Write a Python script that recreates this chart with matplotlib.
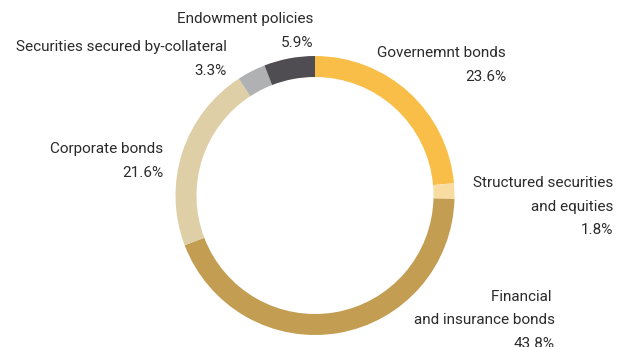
import matplotlib
matplotlib.use("Agg")
import matplotlib.pyplot as plt

plt.rcParams["font.family"] = ["Roboto", "DejaVu Sans"]

categories = ["Governemnt bonds", "Structured securities\nand equities",
              "Financial \nand insurance bonds", "Corporate bonds",
              "Securities secured by-collateral", "Endowment policies"]
shares = [23.6, 1.8, 43.8, 21.6, 3.3, 5.9]
colors = ["#F8BE48", "#F9DCA2", "#C29D52", "#DFCFA6", "#B0B1B3", "#4F4D52"]

W, H = 617, 347
fig = plt.figure(figsize=(W / 100, H / 100), dpi=100)
ax = fig.add_axes([0, 0, 1, 1])

cx, cy, r = 315, H - 195.5, 139.5
ax.pie(shares, colors=colors, startangle=90, counterclock=False,
       center=(cx, cy), radius=r, frame=True,
       wedgeprops=dict(width=21, linewidth=0))
ax.set_xlim(0, W)
ax.set_ylim(0, H)
ax.set_aspect("equal")
ax.axis("off")

# right edge x and centre y of the first label line (pixels from top)
anchors = [(506, 53), (613, 183), (555, 297), (163, 149), (227, 47), (313, 19)]
line_gap = 23.5
for name, val, (x, y) in zip(categories, shares, anchors):
    lines = name.split("\n") + [f"{val:.1f}%"]
    for i, line in enumerate(lines):
        ax.text(x, H - (y + i * line_gap), line, ha="right", va="center",
                fontsize=11, color="#2b2b2b")

fig.savefig("out.png", dpi=100)
